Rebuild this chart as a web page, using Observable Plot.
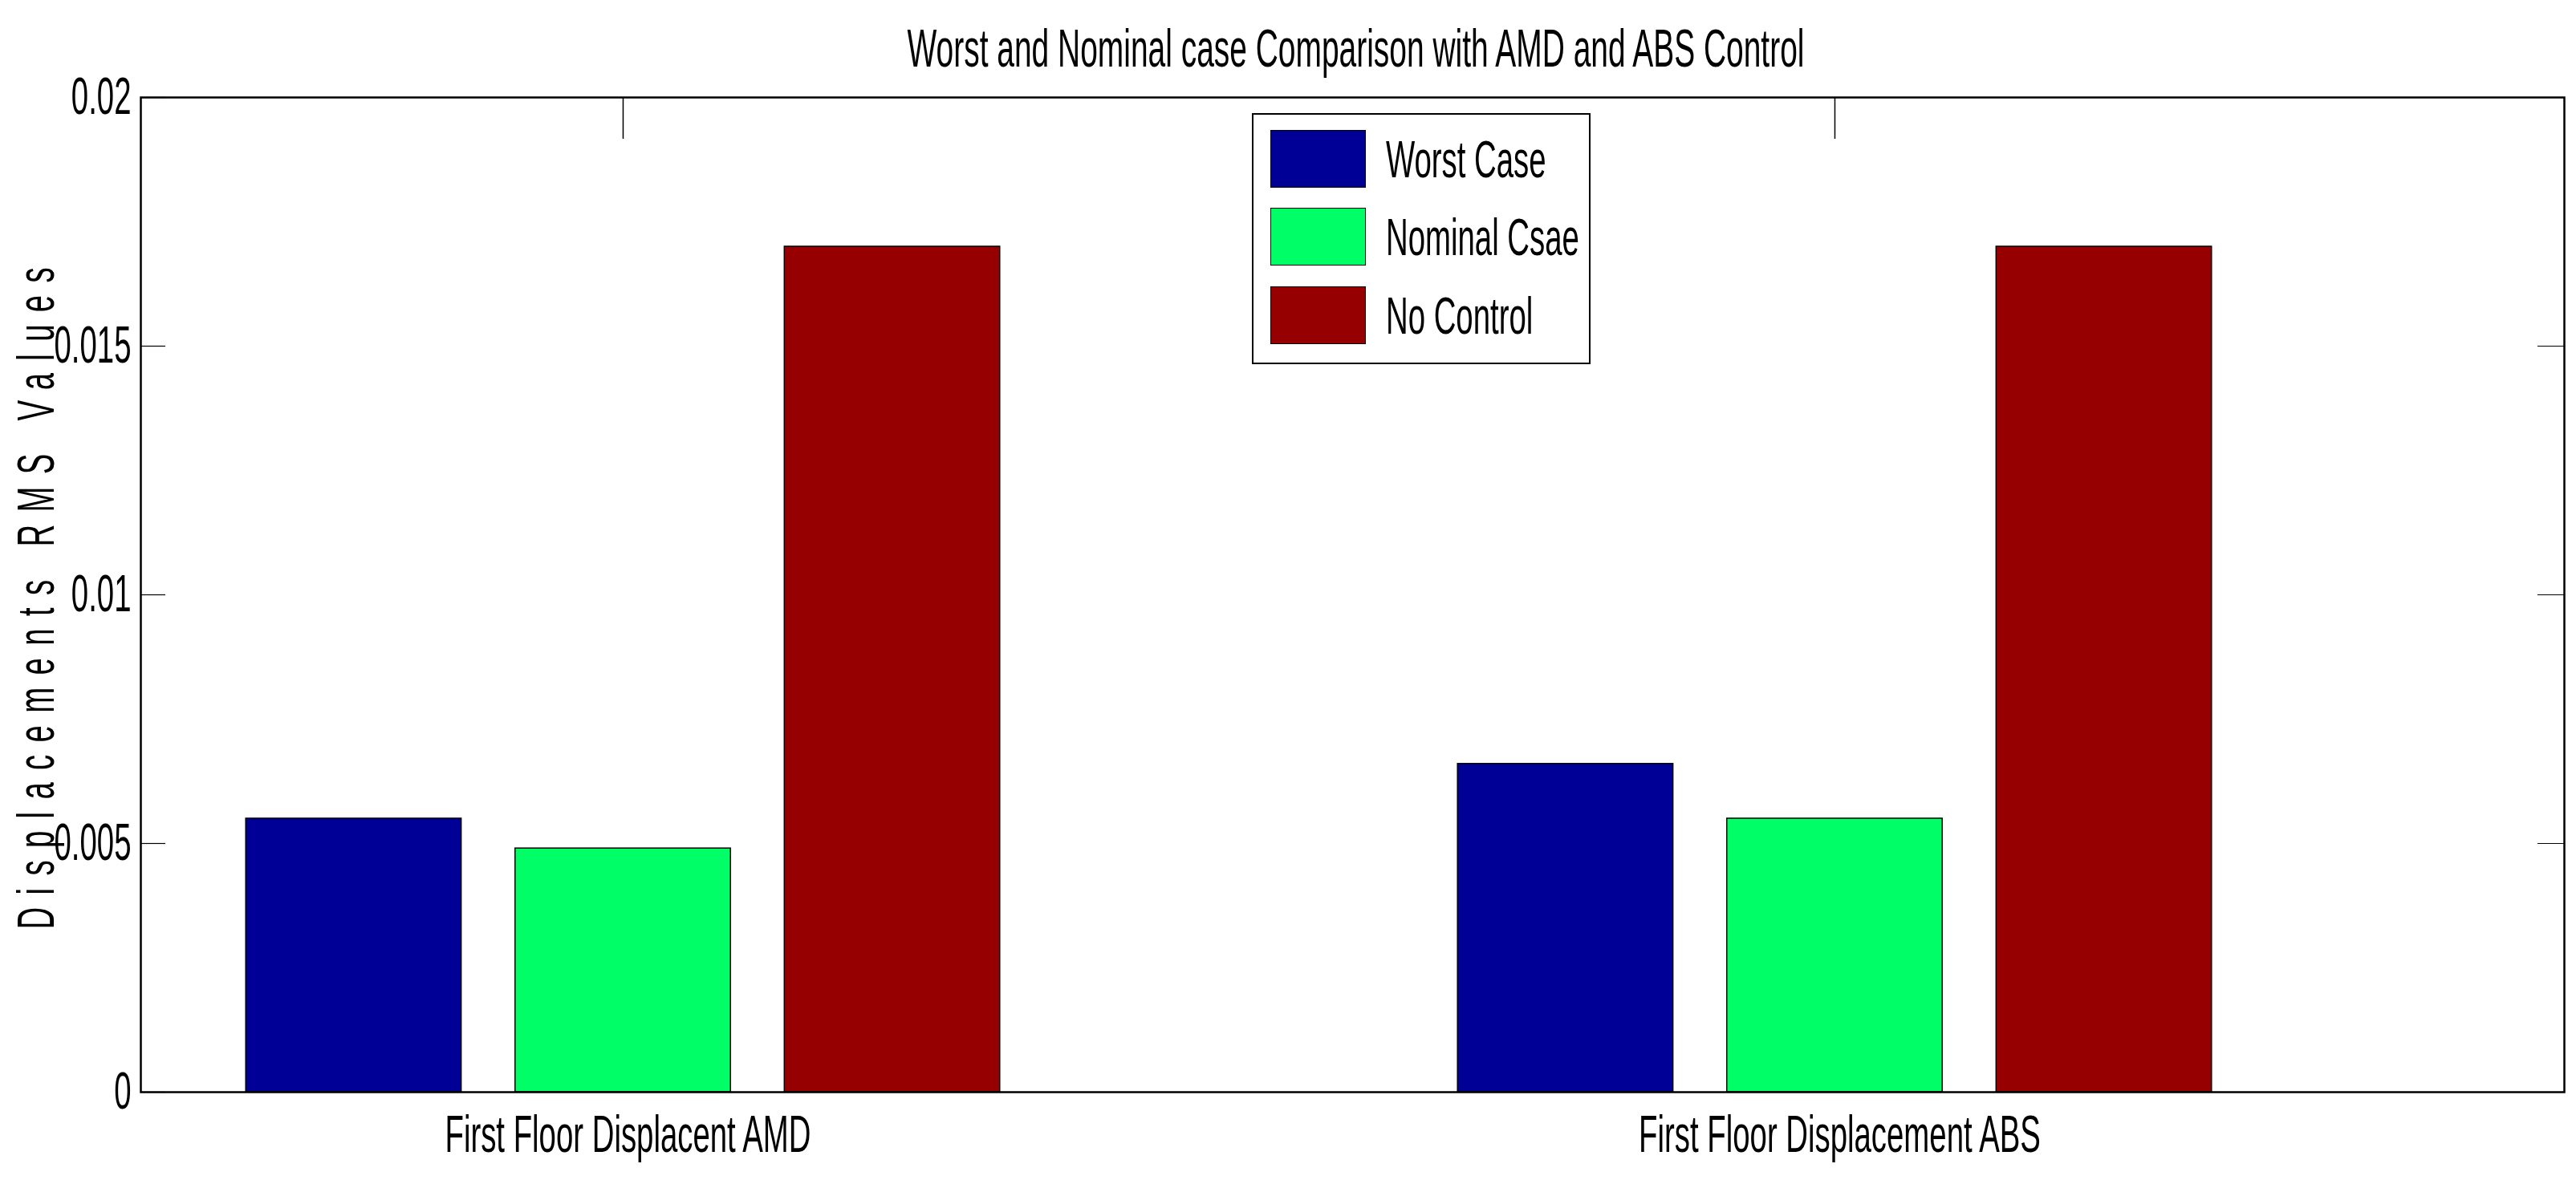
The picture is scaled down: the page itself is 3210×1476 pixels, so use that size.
<!DOCTYPE html>
<html>
<head>
<meta charset="utf-8">
<script src="https://cdn.jsdelivr.net/npm/d3@7"></script>
<script src="https://cdn.jsdelivr.net/npm/@observablehq/plot@0.6"></script>
<style>
html, body { margin: 0; padding: 0; background: #fff; }
#wrap { position: relative; width: 3210px; height: 1476px; overflow: hidden; font-family: 'Liberation Sans', Arial, sans-serif; }
#legend { position: absolute; left: 1560px; top: 141px; width: 422px; height: 313px; border: 2px solid #000; box-sizing: border-box; background: #fff; }
.sw { position: absolute; left: 21px; width: 119px; height: 72px; border: 1.5px solid #000; box-sizing: border-box; }
.lt { position: absolute; left: 165px; font-size: 65px; line-height: 65px; height: 65px; white-space: nowrap; transform: scaleX(0.59); transform-origin: 0 50%; color: #000; }
</style>
</head>
<body>
<div id="wrap"><div id="legend"></div></div>
<script>
// ---- data ----
const categories = ["First Floor Displacent AMD", "First Floor Displacement ABS"];
const seriesNames = ["Worst Case", "Nominal Csae", "No Control"];
const worstCase = [0.0055, 0.0066];
const nominalCase = [0.0049, 0.0055];
const noControl = [0.0170, 0.0170];
const seriesColors = ["#000096", "#00ff66", "#960000"];
const yTicks = [0, 0.005, 0.01, 0.015, 0.02];
const yTickLabels = ["0", "0.005", "0.01", "0.015", "0.02"];
const xTicks = [1, 2];
const titleText = "Worst and Nominal case Comparison with AMD and ABS Control";
const yLabelText = "Displacements RMS Values";

// ---- build table (MATLAB grouped-bar layout) ----
const seriesValues = [worstCase, nominalCase, noControl];
const nS = seriesNames.length;
const groupWidth = Math.min(0.8, nS / (nS + 1.5));
const barW = groupWidth / nS * 0.8;
const rows = [];
categories.forEach((c, i) => {
  seriesValues.forEach((vals, j) => {
    const center = (i + 1) + (j - (nS - 1) / 2) * groupWidth / nS;
    rows.push({category: c, series: seriesNames[j], value: vals[i], x1: center - barW / 2, x2: center + barW / 2});
  });
});

const W = 3210, H = 1476;
const mL = 175, mR = 15, mT = 121, mB = 115;
const frameW = W - mL - mR, frameH = H - mT - mB;

const chart = Plot.plot({
  width: W,
  height: H,
  marginLeft: mL,
  marginRight: mR,
  marginTop: mT,
  marginBottom: mB,
  style: {fontFamily: "'Liberation Sans', Arial, sans-serif", fontSize: "65px", background: "#fff", color: "#000"},
  x: {type: "linear", domain: [0.602, 2.602]},
  y: {domain: [0, 0.02]},
  color: {domain: seriesNames, range: seriesColors},
  marks: [
    // inward tick marks
    Plot.tickY(yTicks, {y: d => d, stroke: "#000", strokeWidth: 1.2, insetRight: frameW - 31}),
    Plot.tickY(yTicks, {y: d => d, stroke: "#000", strokeWidth: 1.2, insetLeft: frameW - 33}),
    Plot.tickX(xTicks, {x: d => d, stroke: "#000", strokeWidth: 1.5, insetBottom: frameH - 52}),
    Plot.tickX(xTicks, {x: d => d, stroke: "#000", strokeWidth: 1.5, insetTop: frameH - 52}),
    // bars
    Plot.rect(rows, {x1: "x1", x2: "x2", y1: 0, y2: "value", fill: "series", stroke: "#000", strokeWidth: 1.5}),
    // axes
    Plot.axisY(yTicks, {tickSize: 0, tickPadding: 12, tickFormat: d => yTickLabels[yTicks.indexOf(d)], fontSize: 65, label: null}),
    Plot.axisX(xTicks, {tickSize: 0, tickPadding: 28, dx: 6, tickFormat: d => categories[d - 1], fontSize: 65, label: null}),
    Plot.frame({stroke: "#000", strokeWidth: 2.5}),
    // title and y label
    Plot.text([titleText], {frameAnchor: "top", lineAnchor: "bottom", dy: -39, dx: 4, fontSize: 66, fill: "#000"}),
    Plot.text([yLabelText], {frameAnchor: "left", rotate: -90, lineAnchor: "top", textAnchor: "start", dx: -155, dy: 417, fontSize: 65, fill: "#000"})
  ]
});

document.getElementById("wrap").prepend(chart);

// narrow (condensed) text like the original rendering
const svg = d3.select(chart.tagName.toLowerCase() === "svg" ? chart : chart.querySelector("svg"));
svg.selectAll("text").filter(function () { return this.textContent === yLabelText; })
  .style("letter-spacing", "26px");
const K = 0.59;
svg.selectAll("text").each(function () {
  const t = d3.select(this);
  const tr = t.attr("transform");
  if (tr) {
    t.attr("transform", tr + ` scale(${K},1)`);
  } else {
    const x = +t.attr("x") || 0;
    t.attr("x", null);
    t.attr("transform", `translate(${x},0) scale(${K},1)`);
  }
});

// legend (HTML, built from the data arrays)
const legend = d3.select("#legend");
const swTops = [19, 116, 214];
seriesNames.forEach((name, j) => {
  legend.append("div").attr("class", "sw").style("top", swTops[j] + "px").style("background", seriesColors[j]);
  legend.append("div").attr("class", "lt").style("top", (swTops[j] + 36 - 32) + "px").text(name);
});
</script>
</body>
</html>
